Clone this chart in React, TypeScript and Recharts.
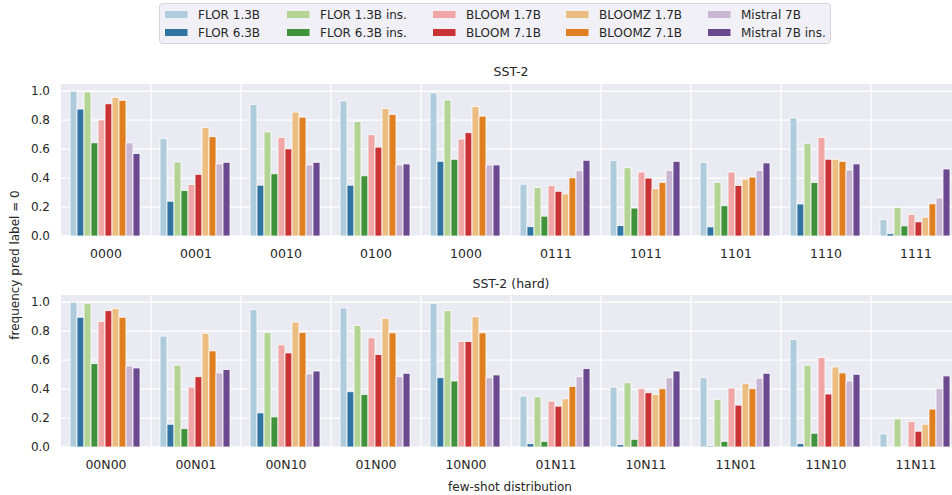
import React from "react";
import { BarChart, Bar, XAxis, YAxis, CartesianGrid } from "recharts";

const categoriesTop = ["0000", "0001", "0010", "0100", "1000", "0111", "1011", "1101", "1110", "1111"];
const categoriesBottom = ["00N00", "00N01", "00N10", "01N00", "10N00", "01N11", "10N11", "11N01", "11N10", "11N11"];

const seriesNames = [
  "FLOR 1.3B",
  "FLOR 6.3B",
  "FLOR 1.3B ins.",
  "FLOR 6.3B ins.",
  "BLOOM 1.7B",
  "BLOOM 7.1B",
  "BLOOMZ 1.7B",
  "BLOOMZ 7.1B",
  "Mistral 7B",
  "Mistral 7B ins.",
];

const seriesColors = [
  "#aeccdb",
  "#3274a1",
  "#b3d495",
  "#40923b",
  "#efa6a5",
  "#ca3335",
  "#ebbd81",
  "#df7f20",
  "#c8b6d2",
  "#6a498e",
];

// SST-2 values, one array per model, in category order
const top_flor13 = [1.0, 0.674, 0.909, 0.933, 0.988, 0.358, 0.523, 0.509, 0.816, 0.114];
const top_flor63 = [0.877, 0.24, 0.351, 0.351, 0.516, 0.065, 0.072, 0.063, 0.221, 0.016];
const top_flor13ins = [0.995, 0.512, 0.719, 0.791, 0.94, 0.335, 0.472, 0.37, 0.64, 0.198];
const top_flor63ins = [0.644, 0.314, 0.43, 0.416, 0.53, 0.137, 0.193, 0.209, 0.37, 0.07];
const top_bloom17 = [0.802, 0.356, 0.681, 0.7, 0.67, 0.347, 0.442, 0.442, 0.681, 0.149];
const top_bloom71 = [0.914, 0.426, 0.602, 0.614, 0.714, 0.309, 0.4, 0.349, 0.53, 0.098];
const top_bloomz17 = [0.958, 0.749, 0.856, 0.881, 0.895, 0.291, 0.328, 0.393, 0.53, 0.13];
const top_bloomz71 = [0.937, 0.686, 0.821, 0.84, 0.828, 0.402, 0.37, 0.407, 0.516, 0.223];
const top_mistral = [0.644, 0.498, 0.491, 0.491, 0.491, 0.451, 0.453, 0.453, 0.456, 0.263];
const top_mistralins = [0.57, 0.509, 0.509, 0.498, 0.491, 0.523, 0.516, 0.505, 0.498, 0.463];

// SST-2 (hard) values
const bot_flor13 = [1.0, 0.766, 0.949, 0.961, 0.993, 0.352, 0.414, 0.479, 0.743, 0.09];
const bot_flor63 = [0.896, 0.157, 0.236, 0.382, 0.479, 0.023, 0.016, 0.007, 0.023, 0.0];
const bot_flor13ins = [0.993, 0.565, 0.792, 0.84, 0.942, 0.347, 0.444, 0.329, 0.565, 0.194];
const bot_flor63ins = [0.576, 0.127, 0.208, 0.363, 0.456, 0.039, 0.053, 0.039, 0.095, 0.0];
const bot_bloom17 = [0.868, 0.414, 0.706, 0.755, 0.729, 0.317, 0.403, 0.407, 0.618, 0.176];
const bot_bloom71 = [0.942, 0.486, 0.65, 0.639, 0.729, 0.282, 0.375, 0.289, 0.366, 0.109];
const bot_bloomz17 = [0.956, 0.785, 0.863, 0.889, 0.9, 0.333, 0.363, 0.4375, 0.553, 0.157];
const bot_bloomz71 = [0.896, 0.664, 0.792, 0.789, 0.789, 0.419, 0.403, 0.403, 0.512, 0.262];
const bot_mistral = [0.56, 0.512, 0.505, 0.486, 0.479, 0.486, 0.479, 0.475, 0.456, 0.403];
const bot_mistralins = [0.546, 0.535, 0.525, 0.509, 0.498, 0.542, 0.525, 0.509, 0.502, 0.491];

const yTicks = [0, 0.2, 0.4, 0.6, 0.8, 1.0];

const topSeries = [
  top_flor13, top_flor63, top_flor13ins, top_flor63ins, top_bloom17,
  top_bloom71, top_bloomz17, top_bloomz71, top_mistral, top_mistralins,
];
const botSeries = [
  bot_flor13, bot_flor63, bot_flor13ins, bot_flor63ins, bot_bloom17,
  bot_bloom71, bot_bloomz17, bot_bloomz71, bot_mistral, bot_mistralins,
];

function buildRows(cats: string[], series: number[][]) {
  return cats.map((c, ci) => {
    const row: Record<string, any> = { cat: c };
    series.forEach((s, si) => {
      row["s" + si] = s[ci];
    });
    return row;
  });
}

const topData = buildRows(categoriesTop, topSeries);
const botData = buildRows(categoriesBottom, botSeries);

const FONT = "'DejaVu Sans', Verdana, sans-serif";
const TXT = "#262626";

function Panel({ data, width, height, margin }: any) {
  const n = data.length;
  return (
    <BarChart
      width={width}
      height={height}
      data={data}
      margin={margin}
      barCategoryGap="10%"
      barGap={0}
    >
      <CartesianGrid
        fill="#eaeaf2"
        stroke="#ffffff"
        strokeWidth={1.3}
        horizontalValues={yTicks}
        verticalCoordinatesGenerator={({ offset }: any) => {
          const arr: number[] = [];
          for (let i = 1; i < n; i++) arr.push(offset.left + (offset.width * i) / n);
          return arr;
        }}
      />
      <XAxis
        dataKey="cat"
        axisLine={false}
        tickLine={false}
        tickSize={0}
        tickMargin={13}
        height={30}
        interval={0}
        tick={{ fill: TXT, fontSize: 12.5, fontFamily: FONT }}
      />
      <YAxis
        domain={[0, 1.05]}
        ticks={yTicks}
        allowDataOverflow
        axisLine={false}
        tickLine={false}
        tickSize={0}
        tickMargin={11}
        width={61}
        tickFormatter={(v: number) => v.toFixed(1)}
        tick={{ fill: TXT, fontSize: 12, fontFamily: FONT }}
      />
      {seriesNames.map((name, i) => (
        <Bar
          key={name}
          dataKey={"s" + i}
          name={name}
          fill={seriesColors[i]}
          stroke="#ffffff"
          strokeWidth={0.8}
          isAnimationActive={false}
        />
      ))}
    </BarChart>
  );
}

const legendCols = [165, 287, 433, 566, 708];

export default function App() {
  return (
    <div
      style={{
        position: "fixed",
        left: 0,
        top: 0,
        width: 952,
        height: 495,
        overflow: "hidden",
        background: "#ffffff",
        fontFamily: FONT,
      }}
    >
      <div style={{ position: "absolute", left: 0, top: 0 }}>
        <Panel data={topData} width={1000} height={270} margin={{ top: 84, right: 39, bottom: 4, left: 0 }} />
      </div>
      <div style={{ position: "absolute", left: 0, top: 260 }}>
        <Panel data={botData} width={1000} height={235} margin={{ top: 35, right: 39, bottom: 18, left: 0 }} />
      </div>
      <svg
        width={952}
        height={495}
        style={{ position: "absolute", left: 0, top: 0, pointerEvents: "none" }}
      >
        <text x={511} y={76} textAnchor="middle" fontSize={12.5} fill={TXT} fontFamily={FONT}>
          SST-2
        </text>
        <text x={511} y={288} textAnchor="middle" fontSize={12.5} fill={TXT} fontFamily={FONT}>
          SST-2 (hard)
        </text>
        <text x={510} y={491} textAnchor="middle" fontSize={12} fill={TXT} fontFamily={FONT}>
          few-shot distribution
        </text>
        <text
          x={0}
          y={0}
          transform="translate(19,265) rotate(-90)"
          textAnchor="middle"
          fontSize={12}
          fill={TXT}
          fontFamily={FONT}
        >
          frequency pred label = 0
        </text>
        <rect x={159.5} y={3.5} width={671} height={40} rx={3} fill="#f0f0f6" stroke="#d4d4da" strokeWidth={1} />
        {seriesNames.map((name, i) => {
          const col = Math.floor(i / 2);
          const row = i % 2;
          const x = legendCols[col];
          const cy = row === 0 ? 14.5 : 32.5;
          return (
            <g key={name}>
              <rect x={x} y={cy - 3.5} width={22.5} height={7} fill={seriesColors[i]} />
              <text x={x + 33} y={cy + 4.3} fontSize={12} fill={TXT} fontFamily={FONT}>
                {name}
              </text>
            </g>
          );
        })}
      </svg>
    </div>
  );
}
